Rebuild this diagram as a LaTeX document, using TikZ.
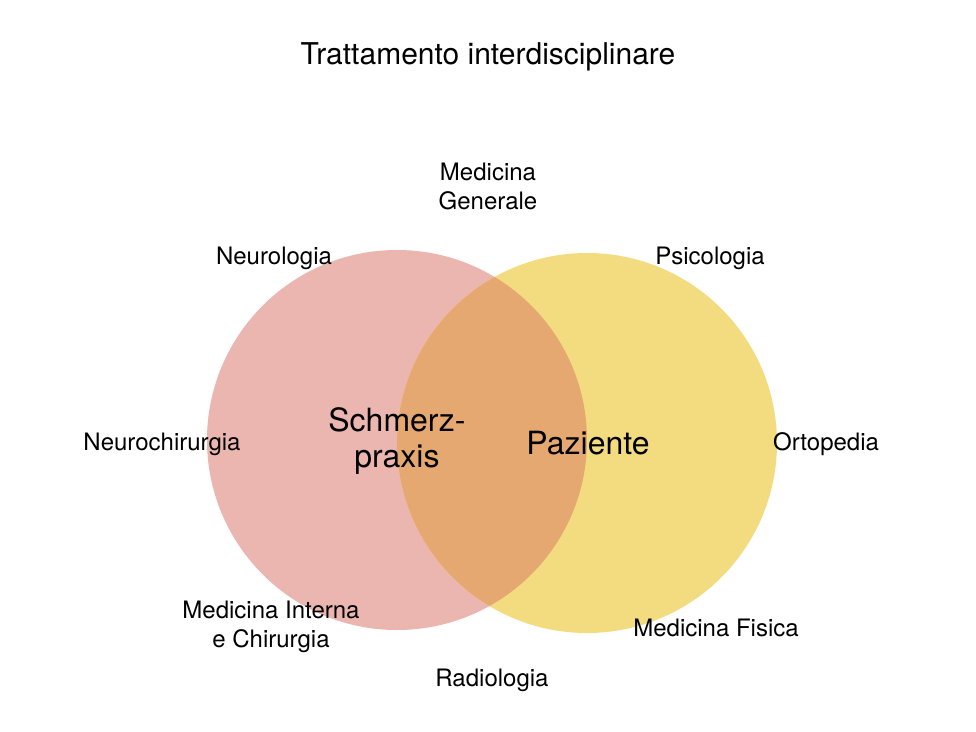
\documentclass[tikz,border=0pt]{standalone}
\usepackage{fontspec}
\setmainfont{TeX Gyre Heros}
\definecolor{pinkc}{HTML}{EBB5B0}
\definecolor{yelc}{HTML}{F3DC80}
\definecolor{overc}{HTML}{E6A871}
\begin{document}
\begin{tikzpicture}[x=1pt,y=-1pt,
  lbl/.style={font=\fontsize{24}{29}\selectfont,align=center,inner sep=0pt},
  big/.style={font=\fontsize{32}{36}\selectfont,align=center,inner sep=0pt}]
\useasboundingbox (0,0) rectangle (976,731);
\fill[white] (0,0) rectangle (976,731);
\fill[pinkc] (397,440) circle (190);
\fill[yelc] (587,443) circle (190);
\begin{scope}
\clip (397,440) circle (190);
\fill[overc] (587,443) circle (190);
\end{scope}
\node[lbl,font=\fontsize{30}{36}\selectfont] (title) at (488,57) {Trattamento interdisciplinare};
\node[lbl] (mg) at (488,186) {Medicina\\Generale};
\node[lbl] (neu) at (274,258) {Neurologia};
\node[lbl] (psi) at (710,258) {Psicologia};
\node[lbl] (nch) at (162,444) {Neurochirurgia};
\node[lbl] (ort) at (826,444) {Ortopedia};
\node[lbl] (mic) at (271,627) {Medicina Interna\\e Chirurgia};
\node[lbl] (mf) at (716,628) {Medicina Fisica};
\node[lbl] (rad) at (492,680) {Radiologia};
\node[big] (sp) at (397,441) {Schmerz-\\praxis};
\node[big] (paz) at (588,443) {Paziente};
\end{tikzpicture}
\end{document}
